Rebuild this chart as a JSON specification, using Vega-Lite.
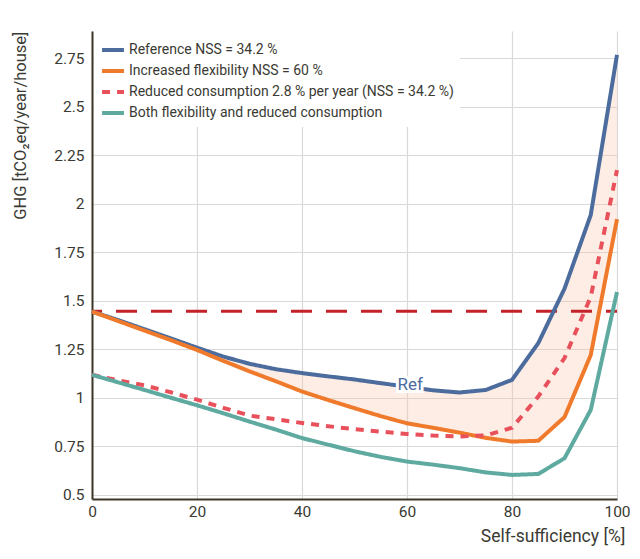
{
  "$schema": "https://vega.github.io/schema/vega-lite/v6.json",
  "width": 525,
  "height": 468,
  "autosize": {"type": "none"},
  "padding": {"left": 92, "top": 31, "right": 23, "bottom": 60},
  "background": "white",
  "datasets": {
    "lines": [
      {"x": 0, "s": "Reference NSS = 34.2 %", "y": 1.444},
      {"x": 5, "s": "Reference NSS = 34.2 %", "y": 1.4},
      {"x": 10, "s": "Reference NSS = 34.2 %", "y": 1.353},
      {"x": 15, "s": "Reference NSS = 34.2 %", "y": 1.306},
      {"x": 20, "s": "Reference NSS = 34.2 %", "y": 1.258},
      {"x": 25, "s": "Reference NSS = 34.2 %", "y": 1.212},
      {"x": 30, "s": "Reference NSS = 34.2 %", "y": 1.175},
      {"x": 35, "s": "Reference NSS = 34.2 %", "y": 1.147},
      {"x": 40, "s": "Reference NSS = 34.2 %", "y": 1.127},
      {"x": 45, "s": "Reference NSS = 34.2 %", "y": 1.11},
      {"x": 50, "s": "Reference NSS = 34.2 %", "y": 1.094},
      {"x": 55, "s": "Reference NSS = 34.2 %", "y": 1.075},
      {"x": 60, "s": "Reference NSS = 34.2 %", "y": 1.057},
      {"x": 65, "s": "Reference NSS = 34.2 %", "y": 1.038},
      {"x": 70, "s": "Reference NSS = 34.2 %", "y": 1.027},
      {"x": 75, "s": "Reference NSS = 34.2 %", "y": 1.04},
      {"x": 80, "s": "Reference NSS = 34.2 %", "y": 1.092},
      {"x": 85, "s": "Reference NSS = 34.2 %", "y": 1.281},
      {"x": 90, "s": "Reference NSS = 34.2 %", "y": 1.562},
      {"x": 95, "s": "Reference NSS = 34.2 %", "y": 1.942},
      {"x": 100, "s": "Reference NSS = 34.2 %", "y": 2.767},
      {"x": 0, "s": "Increased flexibility NSS = 60 %", "y": 1.444},
      {"x": 5, "s": "Increased flexibility NSS = 60 %", "y": 1.395},
      {"x": 10, "s": "Increased flexibility NSS = 60 %", "y": 1.346},
      {"x": 15, "s": "Increased flexibility NSS = 60 %", "y": 1.297},
      {"x": 20, "s": "Increased flexibility NSS = 60 %", "y": 1.246},
      {"x": 25, "s": "Increased flexibility NSS = 60 %", "y": 1.19},
      {"x": 30, "s": "Increased flexibility NSS = 60 %", "y": 1.136},
      {"x": 35, "s": "Increased flexibility NSS = 60 %", "y": 1.085},
      {"x": 40, "s": "Increased flexibility NSS = 60 %", "y": 1.032},
      {"x": 45, "s": "Increased flexibility NSS = 60 %", "y": 0.988},
      {"x": 50, "s": "Increased flexibility NSS = 60 %", "y": 0.946},
      {"x": 55, "s": "Increased flexibility NSS = 60 %", "y": 0.905},
      {"x": 60, "s": "Increased flexibility NSS = 60 %", "y": 0.868},
      {"x": 65, "s": "Increased flexibility NSS = 60 %", "y": 0.845},
      {"x": 70, "s": "Increased flexibility NSS = 60 %", "y": 0.82},
      {"x": 75, "s": "Increased flexibility NSS = 60 %", "y": 0.793},
      {"x": 80, "s": "Increased flexibility NSS = 60 %", "y": 0.774},
      {"x": 85, "s": "Increased flexibility NSS = 60 %", "y": 0.778},
      {"x": 90, "s": "Increased flexibility NSS = 60 %", "y": 0.9},
      {"x": 95, "s": "Increased flexibility NSS = 60 %", "y": 1.22},
      {"x": 100, "s": "Increased flexibility NSS = 60 %", "y": 1.92},
      {"x": 0, "s": "Reduced consumption 2.8 % per year (NSS = 34.2 %)", "y": 1.118},
      {"x": 5, "s": "Reduced consumption 2.8 % per year (NSS = 34.2 %)", "y": 1.09},
      {"x": 10, "s": "Reduced consumption 2.8 % per year (NSS = 34.2 %)", "y": 1.064},
      {"x": 15, "s": "Reduced consumption 2.8 % per year (NSS = 34.2 %)", "y": 1.028},
      {"x": 20, "s": "Reduced consumption 2.8 % per year (NSS = 34.2 %)", "y": 0.99},
      {"x": 25, "s": "Reduced consumption 2.8 % per year (NSS = 34.2 %)", "y": 0.948},
      {"x": 30, "s": "Reduced consumption 2.8 % per year (NSS = 34.2 %)", "y": 0.908},
      {"x": 35, "s": "Reduced consumption 2.8 % per year (NSS = 34.2 %)", "y": 0.889},
      {"x": 40, "s": "Reduced consumption 2.8 % per year (NSS = 34.2 %)", "y": 0.87},
      {"x": 45, "s": "Reduced consumption 2.8 % per year (NSS = 34.2 %)", "y": 0.853},
      {"x": 50, "s": "Reduced consumption 2.8 % per year (NSS = 34.2 %)", "y": 0.838},
      {"x": 55, "s": "Reduced consumption 2.8 % per year (NSS = 34.2 %)", "y": 0.825},
      {"x": 60, "s": "Reduced consumption 2.8 % per year (NSS = 34.2 %)", "y": 0.813},
      {"x": 65, "s": "Reduced consumption 2.8 % per year (NSS = 34.2 %)", "y": 0.805},
      {"x": 70, "s": "Reduced consumption 2.8 % per year (NSS = 34.2 %)", "y": 0.8},
      {"x": 75, "s": "Reduced consumption 2.8 % per year (NSS = 34.2 %)", "y": 0.806},
      {"x": 80, "s": "Reduced consumption 2.8 % per year (NSS = 34.2 %)", "y": 0.845},
      {"x": 85, "s": "Reduced consumption 2.8 % per year (NSS = 34.2 %)", "y": 1.006},
      {"x": 90, "s": "Reduced consumption 2.8 % per year (NSS = 34.2 %)", "y": 1.204},
      {"x": 95, "s": "Reduced consumption 2.8 % per year (NSS = 34.2 %)", "y": 1.52},
      {"x": 100, "s": "Reduced consumption 2.8 % per year (NSS = 34.2 %)", "y": 2.173},
      {"x": 0, "s": "Both flexibility and reduced consumption", "y": 1.118},
      {"x": 5, "s": "Both flexibility and reduced consumption", "y": 1.079},
      {"x": 10, "s": "Both flexibility and reduced consumption", "y": 1.04},
      {"x": 15, "s": "Both flexibility and reduced consumption", "y": 1.0},
      {"x": 20, "s": "Both flexibility and reduced consumption", "y": 0.961},
      {"x": 25, "s": "Both flexibility and reduced consumption", "y": 0.92},
      {"x": 30, "s": "Both flexibility and reduced consumption", "y": 0.877},
      {"x": 35, "s": "Both flexibility and reduced consumption", "y": 0.836},
      {"x": 40, "s": "Both flexibility and reduced consumption", "y": 0.792},
      {"x": 45, "s": "Both flexibility and reduced consumption", "y": 0.758},
      {"x": 50, "s": "Both flexibility and reduced consumption", "y": 0.724},
      {"x": 55, "s": "Both flexibility and reduced consumption", "y": 0.695},
      {"x": 60, "s": "Both flexibility and reduced consumption", "y": 0.671},
      {"x": 65, "s": "Both flexibility and reduced consumption", "y": 0.655},
      {"x": 70, "s": "Both flexibility and reduced consumption", "y": 0.637},
      {"x": 75, "s": "Both flexibility and reduced consumption", "y": 0.615},
      {"x": 80, "s": "Both flexibility and reduced consumption", "y": 0.602},
      {"x": 85, "s": "Both flexibility and reduced consumption", "y": 0.607},
      {"x": 90, "s": "Both flexibility and reduced consumption", "y": 0.688},
      {"x": 95, "s": "Both flexibility and reduced consumption", "y": 0.937},
      {"x": 100, "s": "Both flexibility and reduced consumption", "y": 1.545}
    ],
    "band": [
      {"x": 0, "y": 1.444, "lo": 1.444},
      {"x": 5, "y": 1.4, "lo": 1.395},
      {"x": 10, "y": 1.353, "lo": 1.346},
      {"x": 15, "y": 1.306, "lo": 1.297},
      {"x": 20, "y": 1.258, "lo": 1.246},
      {"x": 25, "y": 1.212, "lo": 1.19},
      {"x": 30, "y": 1.175, "lo": 1.136},
      {"x": 35, "y": 1.147, "lo": 1.085},
      {"x": 40, "y": 1.127, "lo": 1.032},
      {"x": 45, "y": 1.11, "lo": 0.988},
      {"x": 50, "y": 1.094, "lo": 0.946},
      {"x": 55, "y": 1.075, "lo": 0.905},
      {"x": 60, "y": 1.057, "lo": 0.868},
      {"x": 65, "y": 1.038, "lo": 0.845},
      {"x": 70, "y": 1.027, "lo": 0.82},
      {"x": 75, "y": 1.04, "lo": 0.793},
      {"x": 80, "y": 1.092, "lo": 0.774},
      {"x": 85, "y": 1.281, "lo": 0.778},
      {"x": 90, "y": 1.562, "lo": 0.9},
      {"x": 95, "y": 1.942, "lo": 1.22},
      {"x": 100, "y": 2.767, "lo": 1.92}
    ],
    "threshold": [{"x": 0, "y": 1.445}, {"x": 100, "y": 1.445}],
    "label": [{"x": 60.6, "y": 1.066, "t": "Ref"}]
  },
  "encoding": {
    "x": {
      "field": "x", "type": "quantitative",
      "scale": {"domain": [0, 100], "nice": false},
      "axis": {
        "values": [0, 20, 40, 60, 80, 100],
        "title": "Self-sufficiency [%]",
        "titleAnchor": "end", "titleAlign": "right", "titleX": 533, "titleY": 37, "titleBaseline": "middle",
        "ticks": false, "labelPadding": 5, "labelFlush": false
      }
    },
    "y": {
      "field": "y", "type": "quantitative",
      "scale": {"domain": [0.478, 2.89], "nice": false, "zero": false},
      "axis": {
        "values": [0.5, 0.75, 1, 1.25, 1.5, 1.75, 2, 2.25, 2.5, 2.75],
        "format": ".2~f",
        "title": "GHG [tCO₂eq/year/house]",
        "titleAngle": -90, "titleX": -72, "titleY": 0, "titleAlign": "right", "titleBaseline": "middle",
        "ticks": false, "labelPadding": 8, "labelFlush": false
      }
    }
  },
  "layer": [
    {
      "data": {"name": "band"},
      "mark": {"type": "area", "color": "#f7c4a6", "opacity": 0.3},
      "encoding": {"y2": {"field": "lo"}}
    },
    {
      "data": {"name": "threshold"},
      "mark": {"type": "line", "color": "#c4222a", "strokeWidth": 3, "strokeDash": [21, 14], "strokeDashOffset": 11}
    },
    {
      "data": {"name": "lines"},
      "mark": {"type": "line", "strokeWidth": 4},
      "encoding": {
        "color": {
          "field": "s", "type": "nominal", "title": null,
          "scale": {
            "domain": ["Reference NSS = 34.2 %", "Increased flexibility NSS = 60 %", "Reduced consumption 2.8 % per year (NSS = 34.2 %)", "Both flexibility and reduced consumption"],
            "range": ["#4b6c9c", "#f07a2c", "#e8505b", "#5faaa0"]
          }
        },
        "strokeDash": {
          "field": "s", "type": "nominal", "title": null,
          "scale": {
            "domain": ["Reference NSS = 34.2 %", "Increased flexibility NSS = 60 %", "Reduced consumption 2.8 % per year (NSS = 34.2 %)", "Both flexibility and reduced consumption"],
            "range": [[1, 0], [1, 0], [8, 7], [1, 0]]
          }
        }
      }
    },
    {
      "data": {"name": "label"},
      "mark": {"type": "text", "fontSize": 17, "font": "Roboto", "stroke": "white", "strokeWidth": 6, "color": "white"},
      "encoding": {"text": {"field": "t"}}
    },
    {
      "data": {"name": "label"},
      "mark": {"type": "text", "fontSize": 17, "font": "Roboto", "color": "#4b6c9c"},
      "encoding": {"text": {"field": "t"}}
    }
  ],
  "config": {
    "view": {"stroke": null},
    "font": "Roboto",
    "axis": {
      "labelFont": "Roboto", "labelFontSize": 15.5, "labelColor": "#3a3a33",
      "titleFont": "Roboto", "titleFontSize": 16.5, "titleFontWeight": "normal", "titleColor": "#3a3a33",
      "domainColor": "#3b3628", "domainWidth": 2,
      "gridColor": "#d9d9d9", "gridWidth": 1.2
    },
    "axisX": {"titleFontSize": 17.5},
    "legend": {
      "orient": "none", "legendX": 2, "legendY": 0,
      "fillColor": "white", "padding": 6,
      "symbolType": "stroke", "symbolSize": 480, "symbolStrokeWidth": 4,
      "labelFont": "Roboto", "labelFontSize": 14, "labelColor": "#3a3a33",
      "labelOffset": 3, "labelLimit": 450, "rowPadding": 0
    }
  }
}
